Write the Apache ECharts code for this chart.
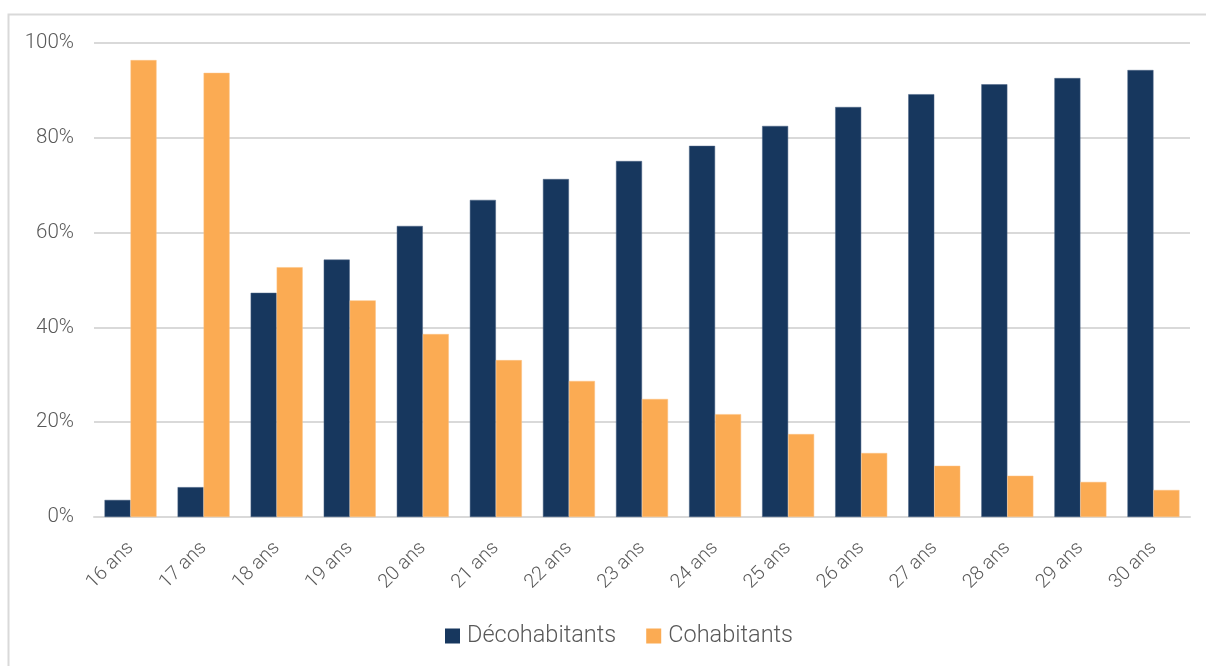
<!DOCTYPE html>
<html><head><meta charset="utf-8">
<script src="https://cdn.jsdelivr.net/npm/echarts@6/dist/echarts.min.js"></script>
<style>html,body{margin:0;padding:0;background:#fff}#c{width:1206px;height:666px}</style>
</head><body><div id="c"></div>
<script>
const categories = ['16 ans','17 ans','18 ans','19 ans','20 ans','21 ans','22 ans','23 ans','24 ans','25 ans','26 ans','27 ans','28 ans','29 ans','30 ans'];
const decohabitants = [3.6, 6.3, 47.3, 54.3, 61.4, 66.9, 71.3, 75.1, 78.3, 82.5, 86.5, 89.2, 91.3, 92.6, 94.3];
const cohabitants = [96.4, 93.7, 52.7, 45.7, 38.6, 33.1, 28.7, 24.9, 21.7, 17.5, 13.5, 10.8, 8.7, 7.4, 5.7];
const seriesNames = ['Décohabitants','Cohabitants'];
const yTicks = {min:0, max:100, interval:20};

const FONT = 'Roboto';
const chart = echarts.init(document.getElementById('c'), null, {renderer:'canvas'});
chart.setOption({
  animation:false,
  textStyle:{fontFamily:FONT, fontWeight:300},
  graphic:[{type:'rect', silent:true, z:-1, shape:{x:8.5, y:14.5, width:1400, height:800}, style:{fill:'none', stroke:'#d9d9d9', lineWidth:2}}],
  grid:{left:94, right:16, top:43, bottom:149, containLabel:false},
  legend:{
    data:seriesNames, bottom:13, left:440, itemWidth:15, itemHeight:15, itemGap:30,
    icon:'rect', itemStyle:{borderWidth:0},
    textStyle:{fontFamily:FONT, fontWeight:300, fontSize:23.5, color:'#595959', padding:[0,0,0,2]}
  },
  xAxis:{
    type:'category', data:categories,
    axisLine:{show:true, lineStyle:{color:'#d9d9d9', width:2}},
    axisTick:{show:false},
    axisLabel:{rotate:45, fontSize:19.5, color:'#595959', fontFamily:FONT, fontWeight:300, margin:28, interval:0}
  },
  yAxis:{
    type:'value', min:yTicks.min, max:yTicks.max, interval:yTicks.interval,
    axisLine:{show:false}, axisTick:{show:false},
    splitLine:{lineStyle:{color:'#d9d9d9', width:2}},
    axisLabel:{formatter:'{value}%', fontSize:20.5, color:'#595959', fontFamily:FONT, fontWeight:300, margin:20}
  },
  series:[
    {name:seriesNames[0], type:'bar', data:decohabitants, barWidth:26, barGap:'0%', itemStyle:{color:'#17375E', borderColor:'#4a6385', borderWidth:0.5}},
    {name:seriesNames[1], type:'bar', data:cohabitants, barWidth:26, barGap:'0%', itemStyle:{color:'#FBAB53', borderColor:'#fcc080', borderWidth:0.5}}
  ]
});
</script></body></html>
